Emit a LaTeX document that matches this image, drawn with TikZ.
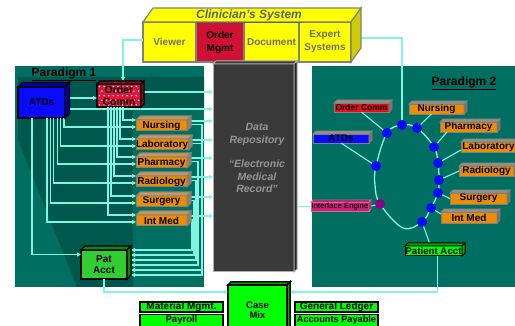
\documentclass[tikz,border=0pt]{standalone}
\usepackage{fontspec}
\setmainfont{Liberation Sans}
\usetikzlibrary{calc,arrows.meta}
\definecolor{teal1}{RGB}{0,110,96}
\definecolor{teal2}{RGB}{0,88,76}
\definecolor{aqua}{RGB}{128,245,225}
\definecolor{org}{RGB}{236,140,0}
\definecolor{orgtop}{RGB}{200,150,95}
\definecolor{orgside}{RGB}{150,125,100}
\definecolor{gbord}{RGB}{128,128,128}
\definecolor{yel}{RGB}{255,255,0}
\definecolor{yelside}{RGB}{205,205,0}
\definecolor{mred}{RGB}{208,16,52}
\definecolor{ocred}{RGB}{222,20,60}
\definecolor{ocside}{RGB}{150,10,40}
\definecolor{rred}{RGB}{232,12,24}
\definecolor{blu}{RGB}{10,10,255}
\definecolor{bluside}{RGB}{0,0,170}
\definecolor{pagreen}{RGB}{50,205,50}
\definecolor{pagside}{RGB}{20,130,20}
\definecolor{lime}{RGB}{0,255,0}
\definecolor{limeside}{RGB}{0,170,0}
\definecolor{repofill}{RGB}{58,58,58}
\definecolor{reposide}{RGB}{35,35,35}
\definecolor{repobord}{RGB}{175,175,175}
\definecolor{repotxt}{RGB}{150,150,150}
\definecolor{slate}{RGB}{85,100,125}
\definecolor{celltxt}{RGB}{110,110,110}
\definecolor{iemag}{RGB}{200,35,115}
\definecolor{purp}{RGB}{140,0,140}
\definecolor{dkt}{RGB}{40,40,40}
\definecolor{graytop}{RGB}{150,145,135}
\definecolor{grayside}{RGB}{120,115,108}

\newcommand\boxfaces[5]{%
  \filldraw[#5,fill=#3] (#1.north west) -- ($(#1.north west)+(#2,-#2)$) -- ($(#1.north east)+(#2,-#2)$) -- (#1.north east) -- cycle;
  \filldraw[#5,fill=#4] (#1.north east) -- ($(#1.north east)+(#2,-#2)$) -- ($(#1.south east)+(#2,-#2)$) -- (#1.south east) -- cycle;
}

\tikzset{
  bx/.style={inner sep=0pt, outer sep=0pt, anchor=north west, align=center},
  obox/.style={bx, fill=org, draw=gbord, line width=1pt, minimum width=51, minimum height=11,
    font=\bfseries\fontsize{10}{10}\selectfont, text=black},
  rbox/.style={bx, draw=gbord, line width=0.8pt, minimum height=10,
    font=\bfseries\fontsize{10}{10}\selectfont, text=black},
  cell/.style={bx, fill=yel, draw=gbord, line width=1.2pt, minimum height=40,
    font=\bfseries\fontsize{10}{13}\selectfont, text=celltxt},
  gbox/.style={bx, fill=lime, draw=black, line width=1.6pt, minimum width=83, minimum height=10,
    font=\bfseries\fontsize{10}{10}\selectfont, text=black},
  ln/.style={draw=aqua, line width=1.1pt},
  arr/.style={ln, -{Triangle[length=4pt,width=4pt]}},
  dot/.style={circle, fill=blu, inner sep=0pt, minimum size=10},
  ocdots/.style={path picture={
    \foreach \r in {0,...,4}{\foreach \c in {0,...,9}{
      \fill[white] ($(path picture bounding box.north west)+({2.5+\c*4.6+mod(\r,2)*2.3},{2.5+\r*4.6})$) circle (0.8);
    }}}},
  ptitle/.style={font=\bfseries\fontsize{12}{12}\selectfont, text=black},
}

\begin{document}
\begin{tikzpicture}[x=1pt,y=-1pt]
\useasboundingbox (0,0) rectangle (515,326);
\fill[white] (0,0) rectangle (515,326);

% panels
\fill[teal1] (15,66) rectangle (204,287);
\fill[teal2] (18,77) -- (204,77) -- (204,108) -- (133,108) -- (133,287) -- (77,287) -- (18,140) -- cycle;
\fill[teal1] (312,66) rectangle (515,287);
\node[ptitle] (p1) at (64,74) {\underline{Paradigm 1}};
\node[ptitle] (p2) at (464,83) {\underline{Paradigm 2}};

% ring coordinates
\coordinate (q1) at (387,133);
\coordinate (q2) at (402,125);
\coordinate (q3) at (417,128);
\coordinate (q4) at (434,147);
\coordinate (q5) at (438,163);
\coordinate (q6) at (439,180);
\coordinate (q7) at (438,193);
\coordinate (q8) at (431,208);
\coordinate (q9) at (422,222);
\coordinate (qb) at (403,228);
\coordinate (qp) at (380,204);
\coordinate (ql) at (375,185);
\coordinate (qa) at (376,166);
\draw[ln, line width=1.3pt] plot[smooth cycle, tension=0.6] coordinates {(q1) (q2) (q3) (q4) (q5) (q6) (q7) (q8) (q9) (qb) (qp) (ql) (qa)};

% Clinician's system
\node[cell] (viewer) at (143,22) [minimum width=53] {Viewer};
\node[cell, fill=mred, text=black] (omgmt) at (196,22) [minimum width=48] {Order\\Mgmt};
\node[cell] (doc) at (244,22) [minimum width=55] {Document};
\node[cell] (expert) at (299,22) [minimum width=52] {Expert\\Systems};

% repository
\node[bx, fill=repofill, draw=repobord, line width=1pt, minimum width=81, minimum height=208] (repo) at (213,64) {};

% left boxes
\node[bx, fill=blu, draw=black, line width=1.3pt, minimum width=47, minimum height=31,
  font=\bfseries\fontsize{10}{10}\selectfont, text=black] (atd) at (18,87) {ATDs};
\node[bx, fill=ocred, draw=black, line width=1.3pt, minimum width=44, minimum height=23, ocdots,
  font=\bfseries\fontsize{10.5}{11.5}\selectfont, text=black] (oc) at (97,84) {Order\\Comm};
\node[obox] (nur) at (136,120) {Nursing};
\node[obox] (lab) at (136,139) {Laboratory};
\node[obox] (pha) at (136,157) {Pharmacy};
\node[obox] (rad) at (136,176) {Radiology};
\node[obox] (sur) at (136,196) {Surgery};
\node[obox] (int) at (136,215) {Int Med};
\node[bx, fill=pagreen, draw=black, line width=1.3pt, minimum width=46, minimum height=29,
  font=\bfseries\fontsize{10}{11}\selectfont, text=black] (pa) at (81,250) {Pat\\Acct};

% bottom boxes
\node[bx, fill=lime, draw=black, line width=1.5pt, minimum width=59, minimum height=50,
  font=\bfseries\fontsize{9.5}{10.5}\selectfont, text=black] (cm) at (228,285) {Case\\Mix};
\node[gbox] (mm) at (140,302) {Material Mgmt.};
\node[gbox, minimum height=12, font=\bfseries\fontsize{9.5}{9.5}\selectfont] (pay) at (140,314.5) {Payroll};
\node[gbox] (gl) at (295,302) {General Ledger};
\node[gbox, minimum height=12, font=\bfseries\fontsize{9.2}{9.2}\selectfont] (ap) at (295,314.5) {Accounts Payable};

% right boxes
\node[rbox, fill=rred, minimum width=55, minimum height=9, font=\bfseries\fontsize{8.5}{8.5}\selectfont] (oc2) at (334,103) {Order Comm};
\node[rbox, fill=blu, minimum width=56, minimum height=9] (atd2) at (313,134) {ATDs};
\node[rbox, fill=org, minimum width=55] (nur2) at (409,104) {Nursing};
\node[rbox, fill=org, minimum width=57] (pha2) at (440,122) {Pharmacy};
\node[rbox, fill=org, minimum width=55] (lab2) at (461,142) {Laboratory};
\node[rbox, fill=org, minimum width=55] (rad2) at (459,166) {Radiology};
\node[rbox, fill=org, minimum width=57, minimum height=11] (sur2) at (450,193) {Surgery};
\node[rbox, fill=org, minimum width=56, minimum height=11] (int2) at (441,212) {Int Med};
\node[rbox, fill=iemag, draw=iemag!70!white, minimum width=58, minimum height=9,
  font=\fontsize{7.8}{7.8}\selectfont] (ie) at (311,202) {Interface Engine};
\node[rbox, fill=lime, draw=black, line width=1pt, minimum width=57, minimum height=10,
  font=\bfseries\fontsize{9.7}{9.7}\selectfont] (pacct2) at (405,246) {Patient Acct};

% ---- connectors (left) ----
\draw[arr] ([yshift=2pt]viewer.west) -| ($(oc.north west)+(26,-3)$);
\draw[arr] ($(atd.east)+(4.5,-4.5)$) -- ($(oc.west |- atd.east)+(0,-4.5)$);
\draw[arr] ($(atd.east)+(4.5,6.5)$) -- ($(repo.west |- atd.east)+(0,6.5)$);
\draw[arr] ($(oc.east)+(3,-3.5)$) -- ($(repo.west |- oc.east)+(0,-3.5)$);
\foreach \b/\k in {nur/0,lab/1,pha/2,rad/3,sur/4,int/5}{
  \draw[arr] ($(oc.south west)+({26-3*\k},0)$) |- ($(\b.west)+(0,-5.5)$);
  \draw[arr] ($(atd.south west)+({46-3.4*\k},0)$) |- ($(\b.west)+(0,1.5)$);
  \draw[arr] ($(\b.east)+(4,-4.5)$) -- ($(repo.west |- \b.east)+(0,-4.5)$);
  \draw[arr] ($(\b.east)+(4,-1)$) -- ++({11-2*\k},0) |- ($(pa.north east)+(4,{25-5*\k})$);
}
\draw[arr] ($(atd.south west)+(14,0)$) |- ($(pa.west)+(0,-10)$);
\draw[arr] (pa.south) |- ($(cm.north west)+(0,7)$);
\draw[arr] ($(pacct2.south)+(4,0)$) |- ($(cm.north east)+(3,7)$);
\draw[ln] ($(repo.east |- ie.west)+(3,0)$) -- (ie.west);
\draw[ln] ($(expert.east)+(10,-4)$) -| (q2);

% spokes (right)
\draw[ln] (oc2.south) -- (q1);
\draw[ln] (atd2.south) -- (qa);
\draw[ln] ($(nur2.south)+(-5,0)$) -- (q3);
\draw[ln] ($(pha2.south west)+(7,0)$) -- (q4);
\draw[ln] ($(lab2.west)+(0,3)$) -- (q5);
\draw[ln] (rad2.west) -- (q6);
\draw[ln] (sur2.west) -- (q7);
\draw[ln] ($(int2.north west)+(0,2)$) -- (q8);
\draw[ln] (ie.east) -- (qp);
\draw[ln] (q9) -- ($(pacct2.north)+(-4,-3)$);

% dots
\node[dot] (d1) at (q1) {};
\node[dot] (d2) at (q2) {};
\node[dot] (d3) at (q3) {};
\node[dot] (d4) at (q4) {};
\node[dot] (d5) at (q5) {};
\node[dot] (d6) at (q6) {};
\node[dot] (d7) at (q7) {};
\node[dot] (d8) at (q8) {};
\node[dot] (d9) at (q9) {};
\node[dot] (da) at (qa) {};
\node[dot, fill=purp] (dp) at (qp) {};

% 3D faces
\filldraw[gbord, line width=1.2pt, fill=yel] (viewer.north west) -- ++(10,-14) -- ($(expert.north east)+(10,-14)$) -- (expert.north east) -- cycle;
\filldraw[gbord, line width=1.2pt, fill=yelside] (expert.north east) -- ++(10,-14) -- ($(expert.south east)+(10,-14)$) -- (expert.south east) -- cycle;
\node[font=\bfseries\itshape\fontsize{12}{12}\selectfont, text=slate] (clin) at (249,16) {\underline{Clinician's System}};
\boxfaces{repo}{3}{repofill}{reposide}{repobord, line width=1pt}
\boxfaces{atd}{4.5}{bluside}{bluside}{black, line width=1.3pt}
\boxfaces{oc}{3}{ocside}{ocside}{black, line width=1.3pt}
\foreach \b in {nur,lab,pha,rad,sur,int}{\boxfaces{\b}{4}{orgtop}{orgside}{gbord, line width=1pt}}
\boxfaces{pa}{4}{pagside}{pagside}{black, line width=1.3pt}
\boxfaces{cm}{3}{limeside}{limeside}{black, line width=1.5pt}
\foreach \b in {oc2,atd2,nur2,pha2,lab2,rad2,sur2,int2}{\boxfaces{\b}{3}{graytop}{grayside}{gbord, line width=0.8pt}}
\boxfaces{ie}{2}{iemag!70!black}{iemag!70!black}{iemag!70!white, line width=0.8pt}
\boxfaces{pacct2}{3}{limeside}{limeside}{black, line width=1pt}

% repository text
\node[font=\bfseries\itshape\fontsize{10.5}{12.5}\selectfont, text=repotxt, align=center] (rtxt) at (257,158)
  {Data\\Repository\\[12pt]“Electronic\\Medical\\Record”};
\end{tikzpicture}
\end{document}
